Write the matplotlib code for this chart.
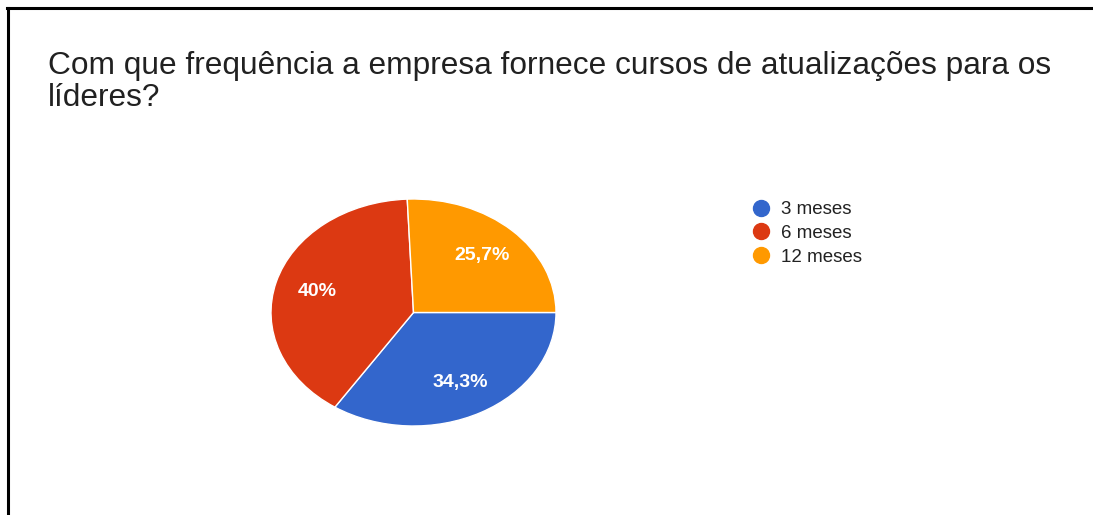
import matplotlib.pyplot as plt
from matplotlib.lines import Line2D
import numpy as np

# Data
categorias = ['3 meses', '6 meses', '12 meses']
percentuais = [34.3, 40.0, 25.7]
rotulos = ['34,3%', '40%', '25,7%']
cores = ['#3366CC', '#DC3912', '#FF9900']

titulo_linhas = ['Com que frequência a empresa fornece cursos de atualizações para os',
                 'líderes?']

W, H = 1093, 515
fig = plt.figure(figsize=(W / 100, H / 100), dpi=100)
fig.patch.set_facecolor('white')
fonte = 'Liberation Sans'

# Pie axes placed in pixels (squashed ellipse like the screenshot)
left, right, top, bottom = 271, 556, 199, 426
ax = fig.add_axes([left / W, 1 - bottom / H, (right - left) / W, (bottom - top) / H])
wedges, _ = ax.pie(percentuais, colors=cores, startangle=0, counterclock=False,
                   wedgeprops=dict(edgecolor='white', linewidth=1.0))
ax.set_aspect('auto')
ax.set_xlim(-1, 1)
ax.set_ylim(-1, 1)
ax.axis('off')

# percentage labels at wedge middles
ang = 0.0
for p, txt in zip(percentuais, rotulos):
    mid = np.deg2rad(ang - p * 3.6 / 2)
    ax.text(0.70 * np.cos(mid), 0.70 * np.sin(mid), txt, ha='center', va='center',
            color='white', fontsize=14, fontweight='bold', family=fonte)
    ang -= p * 3.6

# title, one line at a time (screenshot is squashed vertically)
for i, linha in enumerate(titulo_linhas):
    fig.text(48 / W, 1 - (74 + 32 * i) / H, linha, ha='left', va='baseline',
             fontsize=22.8, family=fonte, color='#212121')

# legend
handles = [Line2D([], [], marker='o', linestyle='none', markersize=11.5,
                  markerfacecolor=c, markeredgecolor=c) for c in cores]
leg = fig.legend(handles, categorias, loc='upper left',
                 bbox_to_anchor=(752 / W, 1 - 201 / H), frameon=False,
                 prop=dict(family=fonte, size=13.5), labelspacing=0.35,
                 handletextpad=0.53, handlelength=1.0, borderaxespad=0, borderpad=0)
for t in leg.get_texts():
    t.set_color('#222222')

# screenshot border (top and left only)
fig.add_artist(Line2D([7 / W, 1], [1 - 8 / H, 1 - 8 / H], color='black', linewidth=2.2,
                      transform=fig.transFigure))
fig.add_artist(Line2D([7.5 / W, 7.5 / W], [0, 1 - 8 / H], color='black', linewidth=2.2,
                      transform=fig.transFigure))

fig.savefig('out.png', dpi=100)
